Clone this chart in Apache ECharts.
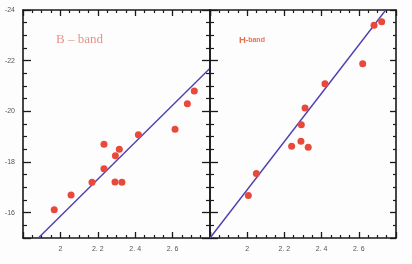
<!DOCTYPE html>
<html>
<head>
<meta charset="utf-8">
<style>
html,body{margin:0;padding:0;background:#fdfdfd;}
#wrap{position:relative;width:412px;height:264px;}
.layer{position:absolute;left:0;top:0;width:412px;height:264px;}
</style>
<script src="https://cdn.jsdelivr.net/npm/echarts@6/dist/echarts.min.js"></script>
</head>
<body>
<div id="wrap"><div class="layer" id="left"></div><div class="layer" id="right"></div></div>
<script>
// ---- data ----
var xTickValues = [2, 2.2, 2.4, 2.6];
var xTickLabels = ['2', '2. 2', '2. 4', '2. 6'];
var yTickValues = [-24, -22, -20, -18, -16];
var yTickLabels = ['-24', '-22', '-20', '-18', '-16'];

var bBandPoints = [
  [1.967, -16.12], [2.057, -16.70], [2.169, -17.20], [2.233, -17.73],
  [2.233, -18.70], [2.294, -18.25], [2.315, -18.50], [2.292, -17.21],
  [2.329, -17.20], [2.417, -19.08], [2.613, -19.29], [2.679, -20.30],
  [2.716, -20.80]
];
var bBandFit = [[1.882, -15.0], [2.80, -21.70]];

var hBandPoints = [
  [2.006, -16.68], [2.049, -17.55], [2.239, -18.62], [2.289, -18.82],
  [2.328, -18.58], [2.291, -19.47], [2.311, -20.13], [2.418, -21.09],
  [2.621, -21.88], [2.682, -23.40], [2.723, -23.54]
];
var hBandFit = [[1.80, -15.0], [2.745, -24.0]];

// ---- helpers ----
function fmt(values, labels, show) {
  return function (v) {
    if (!show) return '';
    for (var i = 0; i < values.length; i++) {
      if (Math.abs(v - values[i]) < 1e-6) return labels[i];
    }
    return '';
  };
}
var axisColor = '#1a1a1a';
function baseAxis(pos, major, minor) {
  return {
    type: 'value', gridIndex: 0, position: pos,
    axisLine: { show: true, onZero: false, lineStyle: { color: axisColor, width: 1.6 } },
    axisTick: { show: true, inside: true, length: major, lineStyle: { color: axisColor, width: 1.3 } },
    minorTick: { show: true, splitNumber: 4, length: minor, lineStyle: { color: axisColor, width: 1.2 } },
    splitLine: { show: false }, minorSplitLine: { show: false }
  };
}
function xAx(pos, showLabel) {
  var a = baseAxis(pos, 6, 3);
  a.min = 1.8; a.max = 2.8; a.interval = 0.2;
  a.axisLabel = { show: true, color: '#555', fontSize: 7, formatter: fmt(xTickValues, xTickLabels, showLabel) };
  return a;
}
function yAx(pos, showLabel, major, minor) {
  var a = baseAxis(pos, major, minor);
  a.inverse = true; a.min = -24; a.max = -15; a.interval = 2;
  a.axisLabel = { show: true, color: '#555', fontSize: 7, formatter: fmt(yTickValues, yTickLabels, showLabel) };
  return a;
}

var dotColor = '#e8493b';
var lineColor = '#4f3fb0';

function panel(el, gridLeft, gridWidth, points, fit, title, leftLabels, rightMajor, rightMinor) {
  var chart = echarts.init(document.getElementById(el));
  chart.setOption({
    animation: false,
    grid: { left: gridLeft, top: 10, width: gridWidth, height: 228 },
    xAxis: [xAx('bottom', true), xAx('top', false)],
    yAxis: [yAx('left', leftLabels, 8, 4), yAx('right', false, rightMajor, rightMinor)],
    title: title,
    series: [
      { type: 'line', data: fit, showSymbol: false, clip: true,
        lineStyle: { color: lineColor, width: 1.4 }, z: 2 },
      { type: 'scatter', data: points, symbolSize: 7,
        itemStyle: { color: dotColor, opacity: 1 }, z: 3 }
    ]
  });
}

panel('left', 23, 187, bBandPoints, bBandFit,
  { text: 'B – band', left: 51, top: 28, textStyle: { color: '#e9938a', fontSize: 13, fontWeight: 'normal', fontFamily: 'Liberation Serif' } },
  true, 8, 4);
panel('right', 210, 186, hBandPoints, hBandFit,
  { text: '{h|H}{b|-band}', left: 234, top: 30,
    textStyle: { rich: { h: { color: '#e8714f', fontSize: 9.5 }, b: { color: '#e8714f', fontSize: 7 } } } },
  false, 6, 3);
</script>
</body>
</html>
